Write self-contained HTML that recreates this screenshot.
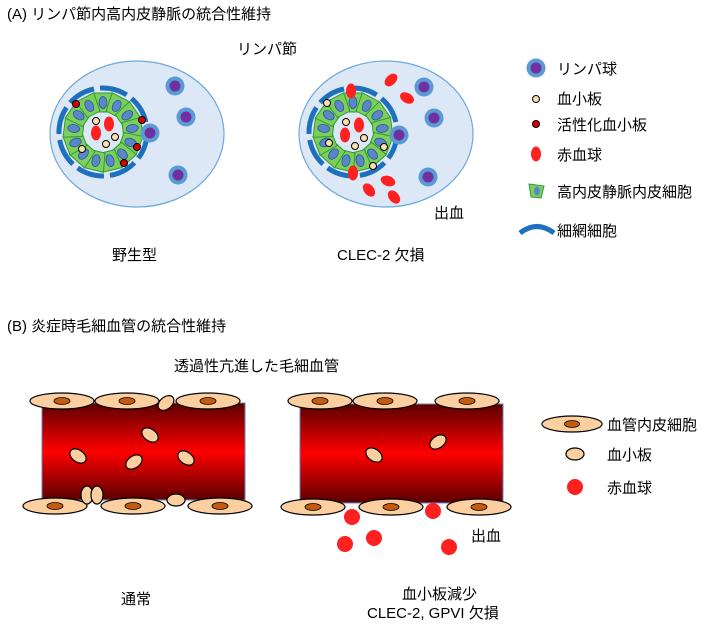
<!DOCTYPE html><html><head><meta charset="utf-8"><style>body{margin:0;background:#fff}svg{display:block}text{font-family:"Liberation Sans","Noto Sans CJK JP",sans-serif;fill:#000}</style></head><body>
<svg width="722" height="627" viewBox="0 0 722 627">
<defs>
<linearGradient id="vg" x1="0" y1="0" x2="0" y2="1"><stop offset="0" stop-color="#5a0000"/><stop offset="0.5" stop-color="#ff0000"/><stop offset="1" stop-color="#5a0000"/></linearGradient>
<g id="cell"><polygon points="-10,-39 10,-39 7,-20 -7,-20" fill="#7ecf5a" stroke="#2e9a3a" stroke-width="1"/><ellipse cx="0" cy="-29.5" rx="4" ry="6" fill="#5b86c8" stroke="#2a5a9a" stroke-width="0.8"/></g>
<g id="ring"><circle r="44" fill="none" stroke="#1f6fbf" stroke-width="5" stroke-dasharray="28 6"/>
<use href="#cell"/><use href="#cell" transform="rotate(27.7)"/><use href="#cell" transform="rotate(55.4)"/><use href="#cell" transform="rotate(83.1)"/><use href="#cell" transform="rotate(110.8)"/><use href="#cell" transform="rotate(138.5)"/><use href="#cell" transform="rotate(166.2)"/><use href="#cell" transform="rotate(193.8)"/><use href="#cell" transform="rotate(221.5)"/><use href="#cell" transform="rotate(249.2)"/><use href="#cell" transform="rotate(276.9)"/><use href="#cell" transform="rotate(304.6)"/><use href="#cell" transform="rotate(332.3)"/></g>
<g id="lym"><circle r="9.5" fill="#5b9bd5"/><circle r="5.5" fill="#7030a0"/></g>
<g id="ec"><ellipse rx="32" ry="8" fill="#fbcf9f" stroke="#000" stroke-width="1.2"/><ellipse rx="8" ry="3.5" fill="#c55a11" stroke="#000" stroke-width="0.8"/></g>
<ellipse id="pl" rx="9" ry="6" fill="#fbcf9f" stroke="#000" stroke-width="1.2"/>
</defs>
<text x="7" y="19" font-size="15">(A)  リンパ節内高内皮静脈の統合性維持</text>
<text x="237" y="54" font-size="15">リンパ節</text>
<ellipse cx="137" cy="134" rx="87" ry="73" fill="#dce8f5" stroke="#6fa8dc" stroke-width="1.2"/>
<use href="#ring" x="103" y="132"/>
<use href="#lym" x="175" y="86"/><use href="#lym" x="186" y="117"/><use href="#lym" x="150" y="133"/><use href="#lym" x="178" y="175"/>
<ellipse cx="96" cy="133" rx="5" ry="7.5" fill="#ff2020"/><ellipse cx="109" cy="124" rx="5" ry="7.5" fill="#ff2020"/>
<g fill="#fde0b0" stroke="#000" stroke-width="1"><circle cx="96" cy="121" r="3.5"/><circle cx="115" cy="137" r="3.5"/><circle cx="106" cy="144" r="3.5"/><circle cx="82" cy="149" r="3.5"/></g>
<g fill="#e00000" stroke="#000" stroke-width="1"><circle cx="76" cy="104" r="3.5"/><circle cx="142" cy="120" r="3.5"/><circle cx="137" cy="147" r="3.5"/><circle cx="124" cy="163" r="3.5"/></g>
<ellipse cx="386" cy="134" rx="87" ry="73" fill="#dce8f5" stroke="#6fa8dc" stroke-width="1.2"/>
<use href="#ring" x="353" y="132"/>
<use href="#lym" x="424" y="87"/><use href="#lym" x="434" y="118"/><use href="#lym" x="399" y="135"/><use href="#lym" x="428" y="177"/>
<g fill="#ff2020"><ellipse cx="391" cy="80" rx="5" ry="7.5" transform="rotate(45 391 80)"/><ellipse cx="407" cy="98" rx="5" ry="7.5" transform="rotate(-60 407 98)"/><ellipse cx="351" cy="91" rx="5" ry="7.5"/><ellipse cx="359" cy="125" rx="5" ry="7.5"/><ellipse cx="345" cy="135" rx="5" ry="7.5"/><ellipse cx="353" cy="173" rx="5" ry="7.5"/><ellipse cx="388" cy="181" rx="5" ry="7.5" transform="rotate(-70 388 181)"/><ellipse cx="369" cy="190" rx="5" ry="7.5" transform="rotate(-40 369 190)"/><ellipse cx="394" cy="197" rx="5" ry="7.5" transform="rotate(-40 394 197)"/></g>
<g fill="#fde0b0" stroke="#000" stroke-width="1"><circle cx="327" cy="103" r="3.5"/><circle cx="346" cy="122" r="3.5"/><circle cx="364" cy="138" r="3.5"/><circle cx="355" cy="146" r="3.5"/><circle cx="329" cy="143" r="3.5"/><circle cx="384" cy="147" r="3.5"/><circle cx="373" cy="166" r="3.5"/></g>
<text x="434" y="218" font-size="15">出血</text>
<text x="112" y="260" font-size="15">野生型</text>
<text x="337" y="260" font-size="15">CLEC-2 欠損</text>
<use href="#lym" x="536" y="68"/><text x="557" y="74" font-size="15">リンパ球</text>
<circle cx="536" cy="99" r="3.5" fill="#fde0b0" stroke="#000"/><text x="557" y="104" font-size="15">血小板</text>
<circle cx="536" cy="124" r="3.5" fill="#e00000" stroke="#000"/><text x="557" y="130" font-size="15">活性化血小板</text>
<ellipse cx="536" cy="154" rx="5" ry="7.5" fill="#ff2020"/><text x="557" y="160" font-size="15">赤血球</text>
<polygon points="529,184 544,186 541,198 531,197" fill="#7ecf5a" stroke="#2e9a3a"/><ellipse cx="537" cy="191" rx="3" ry="4.5" fill="#5b86c8"/><text x="557" y="197" font-size="15">高内皮静脈内皮細胞</text>
<path d="M520 233 Q537 220 554 233" fill="none" stroke="#1f6fbf" stroke-width="5"/><text x="557" y="236" font-size="15">細網細胞</text>
<text x="7" y="331" font-size="15">(B)  炎症時毛細血管の統合性維持</text>
<text x="174" y="371" font-size="15">透過性亢進した毛細血管</text>
<rect x="42" y="403" width="203" height="97" fill="url(#vg)" stroke="#6f7fbf" stroke-width="1"/>
<use href="#ec" x="62" y="401"/><use href="#ec" x="127" y="401"/><use href="#ec" x="208" y="401"/>
<use href="#ec" x="55" y="506"/><use href="#ec" x="133" y="506"/><use href="#ec" x="220" y="506"/>
<use href="#pl" transform="translate(166,403) rotate(-40)"/><use href="#pl" transform="translate(150,435) rotate(35)"/><use href="#pl" transform="translate(78,456) rotate(35)"/><use href="#pl" transform="translate(134,462) rotate(-35)"/><use href="#pl" transform="translate(186,458) rotate(35)"/><use href="#pl" transform="translate(87,495) rotate(90)"/><use href="#pl" transform="translate(97,495) rotate(90)"/><use href="#pl" transform="translate(176,500)"/>
<rect x="300" y="404" width="203" height="99" fill="url(#vg)" stroke="#6f7fbf" stroke-width="1"/>
<use href="#ec" x="320" y="401"/><use href="#ec" x="385" y="401"/><use href="#ec" x="467" y="401"/>
<use href="#ec" x="313" y="507"/><use href="#ec" x="391" y="507"/><use href="#ec" x="479" y="507"/>
<use href="#pl" transform="translate(374,455) rotate(35)"/><use href="#pl" transform="translate(438,442) rotate(-35)"/>
<g fill="#ff2020"><circle cx="352" cy="517" r="8"/><circle cx="433" cy="511" r="8"/><circle cx="345" cy="544" r="8"/><circle cx="374" cy="538" r="8"/><circle cx="449" cy="547" r="8"/></g>
<text x="471" y="541" font-size="15">出血</text>
<use href="#ec" transform="translate(572,424) scale(0.94,1)"/><text x="607" y="430" font-size="15">血管内皮細胞</text>
<use href="#pl" x="575" y="454"/><text x="607" y="460" font-size="15">血小板</text>
<circle cx="575" cy="487" r="8" fill="#ff2020"/><text x="607" y="493" font-size="15">赤血球</text>
<text x="121" y="604" font-size="15">通常</text>
<text x="402" y="599" font-size="15">血小板減少</text>
<text x="367" y="618" font-size="15">CLEC-2, GPVI 欠損</text>
</svg></body></html>
